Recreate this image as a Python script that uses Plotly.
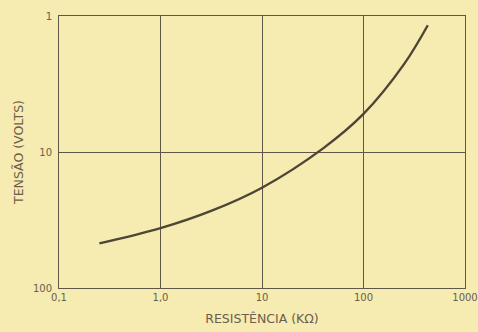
import plotly.graph_objects as go

# Resistance (kΩ) versus voltage (V), log-log scale
resistencia_kohm = [0.25, 1.0, 3.2, 10, 40, 100, 250, 430]
tensao_volts = [47, 36.3, 27, 18.3, 9.4, 5.25, 2.27, 1.17]

x_ticks = [0.1, 1, 10, 100, 1000]
x_tick_labels = ["0,1", "1,0", "10", "100", "1000"]
y_ticks = [1, 10, 100]
y_tick_labels = ["1", "10", "100"]

paper = "#f6ebb0"
ink = "#4d4636"
text_col = "#6a5e4c"
font_family = "DejaVu Sans, Liberation Sans, sans-serif"

fig = go.Figure()
fig.add_trace(go.Scatter(
    x=resistencia_kohm,
    y=tensao_volts,
    mode="lines",
    line=dict(color=ink, width=2.4, shape="spline", smoothing=1.0),
    hoverinfo="skip",
    showlegend=False,
))

axis_common = dict(
    type="log",
    automargin=False,
    showgrid=True,
    gridcolor="#5e5647",
    gridwidth=1,
    showline=True,
    linecolor="#5e5647",
    linewidth=1,
    mirror=True,
    ticks="",
    zeroline=False,
    tickfont=dict(family=font_family, size=10, color=text_col),
)

fig.update_layout(
    width=478,
    height=332,
    margin=dict(l=59, r=13, t=16, b=44),
    paper_bgcolor=paper,
    plot_bgcolor=paper,
    font=dict(family=font_family, color=text_col),
    xaxis=dict(
        axis_common,
        range=[-1, 3],
        tickvals=x_ticks,
        ticktext=x_tick_labels,
        title=dict(text="RESISTÊNCIA (KΩ)", standoff=12,
                   font=dict(family=font_family, size=12.5, color=text_col)),
    ),
    yaxis=dict(
        axis_common,
        range=[2, 0],
        tickvals=y_ticks,
        ticktext=y_tick_labels,
        ticklabelstandoff=4,
        title=dict(text="TENSÃO (VOLTS)", standoff=6,
                   font=dict(family=font_family, size=12.5, color=text_col)),
    ),
)

fig.write_html("out.html")
